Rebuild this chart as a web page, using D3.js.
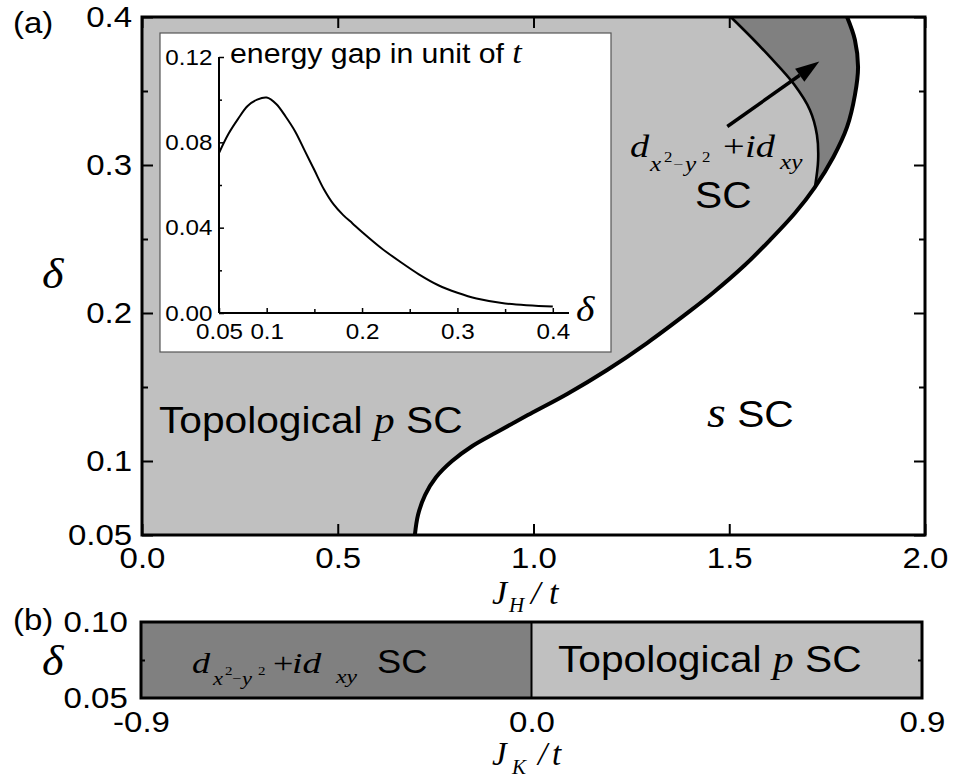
<!DOCTYPE html>
<html>
<head>
<meta charset="utf-8">
<script src="https://cdn.jsdelivr.net/npm/d3@7"></script>
<style>
  body { margin: 0; background: #fff; }
  svg { display: block; }
</style>
</head>
<body>
<svg id="chart" width="953" height="780"></svg>
<script>
// phase boundaries of panel (a): J_H/t and delta
const outerJ     = [0.697, 0.705, 0.723, 0.751, 0.792, 0.843, 0.907, 0.991, 1.086, 1.188, 1.290, 1.400, 1.458, 1.540, 1.604, 1.668, 1.719, 1.766, 1.801, 1.821, 1.829, 1.821, 1.801];
const outerDelta = [0.050, 0.0635, 0.077, 0.089, 0.100, 0.110, 0.1196, 0.1318, 0.1453, 0.1615, 0.1797, 0.2014, 0.2135, 0.2324, 0.2493, 0.2676, 0.2851, 0.3054, 0.3257, 0.3473, 0.3662, 0.3845, 0.400];
const innerJ     = [1.719, 1.727, 1.724, 1.706, 1.665, 1.604, 1.558, 1.504];
const innerDelta = [0.2851, 0.3034, 0.3203, 0.3372, 0.3547, 0.373, 0.3858, 0.400];

// inset: energy gap in unit of t vs delta
const gapDelta = [0.05, 0.06, 0.07, 0.08, 0.09, 0.10, 0.11, 0.12, 0.13, 0.14, 0.15, 0.16, 0.17, 0.18, 0.19, 0.20, 0.22, 0.24, 0.26, 0.28, 0.30, 0.32, 0.35, 0.40];
const gapValue = [0.075, 0.084, 0.091, 0.097, 0.100, 0.101, 0.098, 0.092, 0.085, 0.076, 0.067, 0.058, 0.051, 0.046, 0.042, 0.038, 0.0305, 0.024, 0.018, 0.013, 0.0095, 0.0068, 0.0045, 0.003];

// ticks
const mainXTicks  = [0, 0.5, 1.0, 1.5, 2.0];
const mainXLabels = ["0.0", "0.5", "1.0", "1.5", "2.0"];
const mainYTicks  = [0.05, 0.1, 0.2, 0.3, 0.4];
const mainYLabels = ["0.05", "0.1", "0.2", "0.3", "0.4"];
const mainYMinor  = [0.15, 0.25, 0.35];

const insetXTicks  = [0.05, 0.1, 0.2, 0.3, 0.4];
const insetXLabels = ["0.05", "0.1", "0.2", "0.3", "0.4"];
const insetXMinor  = [0.15, 0.25, 0.35];
const insetYTicks  = [0, 0.04, 0.08, 0.12];
const insetYLabels = ["0.00", "0.04", "0.08", "0.12"];
const insetYMinor  = [0.02, 0.06, 0.10];

// panel (b): phases along J_K/t
const bPhase = ["d", "p"];
const bFrom  = [-0.9, 0.0];
const bTo    = [0.0, 0.9];
const bXTicks  = [-0.9, 0, 0.9];
const bXLabels = ["-0.9", "0.0", "0.9"];
const bYTicks  = [0.05, 0.10];
const bYLabels = ["0.05", "0.10"];

// arrow pointing into the d+id region
const arrowFrom = [1.495, 0.326];
const arrowTo   = [1.730, 0.370];

const LIGHT = "#c0c0c0";
const DARK = "#808080";
const SANS = "'Liberation Sans', Arial, Helvetica, sans-serif";
const SERIF = "'Liberation Serif', 'Times New Roman', serif";
const SX = 1.1; // glyphs in the figure are a bit wider than Arial

const svg = d3.select("#chart");

const x = d3.scaleLinear().domain([0, 2]).range([142, 925]);
const y = d3.scaleLinear().domain([0.05, 0.4]).range([535, 17]);

const outer = outerJ.map((j, i) => [j, outerDelta[i]]);
const inner = innerJ.map((j, i) => [j, innerDelta[i]]);

const boundary = d3.line()
  .x(d => x(d[0]))
  .y(d => y(d[1]))
  .curve(d3.curveCatmullRom.alpha(0.5));

function label(parent, px, py, anchor) {
  return parent.append("text")
    .attr("transform", `translate(${px},${py}) scale(${SX},1)`)
    .attr("text-anchor", anchor || "start")
    .attr("fill", "#000")
    .style("font-family", SANS);
}

function serif(t, str, size) {
  return t.append("tspan")
    .style("font-family", SERIF)
    .style("font-style", "italic")
    .style("font-size", size + "px")
    .text(str);
}

function sans(t, str, size) {
  return t.append("tspan")
    .style("font-family", SANS)
    .style("font-size", size + "px")
    .text(str);
}

// math label laid out piece by piece: [text, x offset, baseline shift, size, italic]
function math(parent, px, py, pieces, sx) {
  sx = sx || 1;
  const t = parent.append("text")
    .attr("transform", `translate(${px},${py}) scale(${sx},1)`)
    .attr("fill", "#000")
    .style("font-family", SERIF);
  pieces.forEach(p => {
    t.append("tspan")
      .attr("x", p[1] / sx).attr("y", p[2])
      .style("font-size", p[3] + "px")
      .style("font-style", p[4] ? "italic" : "normal")
      .text(p[0]);
  });
  return t;
}

function styleAxis(g, size) {
  g.select(".domain").remove();
  g.selectAll(".tick line").attr("stroke", "#000").attr("stroke-width", 2);
  g.selectAll(".tick text")
    .attr("fill", "#000")
    .attr("font-size", size)
    .attr("font-family", SANS)
    .attr("transform", `scale(${SX},1)`);
}

// ---------- panel (a) ----------
const plot = svg.append("g");

plot.append("rect")
  .attr("x", x(0)).attr("y", y(0.4))
  .attr("width", x(2) - x(0)).attr("height", y(0.05) - y(0.4))
  .attr("fill", LIGHT);

plot.append("path")
  .attr("d", boundary(inner) + `L${x(2)},${y(0.4)}L${x(2)},${y(inner[0][1])}Z`)
  .attr("fill", DARK);

plot.append("path")
  .attr("d", boundary(outer) + `L${x(2)},${y(0.4)}L${x(2)},${y(0.05)}Z`)
  .attr("fill", "#fff");

plot.append("path")
  .attr("d", boundary(inner))
  .attr("fill", "none").attr("stroke", "#000").attr("stroke-width", 2.6);

plot.append("path")
  .attr("d", boundary(outer))
  .attr("fill", "none").attr("stroke", "#000").attr("stroke-width", 4);

// arrow
{
  const x0 = x(arrowFrom[0]), y0 = y(arrowFrom[1]);
  const x1 = x(arrowTo[0]), y1 = y(arrowTo[1]);
  const ang = Math.atan2(y1 - y0, x1 - x0);
  const headLen = 24, headHalf = 8;
  const bx0 = x1 - headLen * Math.cos(ang), by0 = y1 - headLen * Math.sin(ang);
  plot.append("line")
    .attr("x1", x0).attr("y1", y0).attr("x2", bx0).attr("y2", by0)
    .attr("stroke", "#000").attr("stroke-width", 3.5);
  const px = -Math.sin(ang) * headHalf, py = Math.cos(ang) * headHalf;
  plot.append("path")
    .attr("d", `M${x1},${y1}L${bx0 + px},${by0 + py}L${bx0 - px},${by0 - py}Z`)
    .attr("fill", "#000");
}

// region labels
{
  const t = label(plot, 159, 433);
  sans(t, "Topological ", 37);
  serif(t, "p", 38);
  sans(t, " SC", 37);

  const s = label(plot, 707, 427);
  serif(s, "s", 44);
  sans(s, " SC", 37);

  math(plot, 630, 157, [
    ["d", 0, 0, 32, true],
    ["x", 20, 14, 21, true],
    ["2", 34, 5, 14, false],
    ["\u2212", 43, 12, 15, false],
    ["y", 55, 14, 21, true],
    ["2", 72, 5, 14, false],
    ["+", 93, 0, 32, false],
    ["id", 115, 0, 32, true],
    ["xy", 150, 12, 21, true]
  ], 1.2);

  label(plot, 695, 208).style("font-size", "37px").text("SC");
}

// inset
const inset = svg.append("g");
inset.append("rect")
  .attr("x", 160).attr("y", 33).attr("width", 451).attr("height", 319)
  .attr("fill", "#fff").attr("stroke", "#555").attr("stroke-width", 1.2);

const ix = d3.scaleLinear().domain([0.05, 0.417]).range([219, 569]);
const iy = d3.scaleLinear().domain([0, 0.12]).range([313, 57]);

inset.append("path")
  .datum(gapDelta.map((d, i) => [d, gapValue[i]]))
  .attr("d", d3.line().x(d => ix(d[0])).y(d => iy(d[1])).curve(d3.curveCatmullRom.alpha(0.5)))
  .attr("fill", "none").attr("stroke", "#000").attr("stroke-width", 2);

inset.append("g").attr("transform", `translate(0,${iy(0)})`)
  .call(d3.axisBottom(ix).tickValues(insetXTicks).tickFormat((d, i) => insetXLabels[i]).tickSize(-5).tickPadding(10))
  .call(styleAxis, 22)
  .call(g => g.selectAll(".tick line").attr("stroke-width", 1.5));
inset.append("g").attr("transform", `translate(0,${iy(0)})`)
  .call(d3.axisBottom(ix).tickValues(insetXMinor).tickFormat("").tickSize(-4))
  .call(styleAxis, 22)
  .call(g => g.selectAll(".tick line").attr("stroke-width", 1.5));
inset.append("g").attr("transform", `translate(${ix(0.05)},0)`)
  .call(d3.axisLeft(iy).tickValues(insetYTicks).tickFormat((d, i) => insetYLabels[i]).tickSize(-5).tickPadding(6))
  .call(styleAxis, 22)
  .call(g => g.selectAll(".tick line").attr("stroke-width", 1.5));
inset.append("g").attr("transform", `translate(${ix(0.05)},0)`)
  .call(d3.axisLeft(iy).tickValues(insetYMinor).tickFormat("").tickSize(-3))
  .call(styleAxis, 22)
  .call(g => g.selectAll(".tick line").attr("stroke-width", 1.5));
inset.append("line")
  .attr("x1", ix.range()[0]).attr("x2", ix.range()[1]).attr("y1", iy(0)).attr("y2", iy(0))
  .attr("stroke", "#000").attr("stroke-width", 2);
inset.append("line")
  .attr("x1", ix(0.05)).attr("x2", ix(0.05)).attr("y1", iy(0)).attr("y2", iy(0.12))
  .attr("stroke", "#000").attr("stroke-width", 2);

{
  const t = label(inset, 230, 63);
  sans(t, "energy gap in unit of ", 27.5);
  serif(t, "t", 31);
  serif(label(inset, 576, 321), "\u03b4", 36);
}

// axes of panel (a)
svg.append("g").attr("transform", `translate(0,${y(0.05)})`)
  .call(d3.axisBottom(x).tickValues(mainXTicks).tickFormat((d, i) => mainXLabels[i]).tickSize(-11).tickPadding(12))
  .call(styleAxis, 30);
svg.append("g").attr("transform", `translate(0,${y(0.4)})`)
  .call(d3.axisTop(x).tickValues(mainXTicks).tickFormat("").tickSize(-11))
  .call(styleAxis, 30);
svg.append("g").attr("transform", `translate(${x(0)},0)`)
  .call(d3.axisLeft(y).tickValues(mainYTicks).tickFormat((d, i) => mainYLabels[i]).tickSize(-11).tickPadding(9))
  .call(styleAxis, 30);
svg.append("g").attr("transform", `translate(${x(0)},0)`)
  .call(d3.axisLeft(y).tickValues(mainYMinor).tickFormat("").tickSize(-6))
  .call(styleAxis, 30);
svg.append("g").attr("transform", `translate(${x(2)},0)`)
  .call(d3.axisRight(y).tickValues(mainYTicks).tickFormat("").tickSize(-11))
  .call(styleAxis, 30);
svg.append("g").attr("transform", `translate(${x(2)},0)`)
  .call(d3.axisRight(y).tickValues(mainYMinor).tickFormat("").tickSize(-6))
  .call(styleAxis, 30);

svg.append("rect")
  .attr("x", x(0)).attr("y", y(0.4))
  .attr("width", x(2) - x(0)).attr("height", y(0.05) - y(0.4))
  .attr("fill", "none").attr("stroke", "#000").attr("stroke-width", 3);

label(svg, 13, 33).style("font-size", "30px").text("(a)");
serif(label(svg, 42, 288), "\u03b4", 42);
math(svg, 492, 604, [
  ["J", 0, 0, 34, true],
  ["H", 17, 8, 21, true],
  ["/", 39, 0, 34, true],
  ["t", 57, 0, 34, true]
]);

// ---------- panel (b) ----------
const bx = d3.scaleLinear().domain([-0.9, 0.9]).range([141, 922]);
const by = d3.scaleLinear().domain([0.05, 0.10]).range([698, 622]);

svg.append("g").selectAll("rect")
  .data(bPhase)
  .join("rect")
  .attr("x", (d, i) => bx(bFrom[i]))
  .attr("width", (d, i) => bx(bTo[i]) - bx(bFrom[i]))
  .attr("y", by(0.10))
  .attr("height", by(0.05) - by(0.10))
  .attr("fill", d => d === "d" ? DARK : LIGHT);

svg.append("line")
  .attr("x1", bx(0)).attr("x2", bx(0)).attr("y1", by(0.10)).attr("y2", by(0.05))
  .attr("stroke", "#000").attr("stroke-width", 2);

svg.append("g").attr("transform", `translate(0,${by(0.05)})`)
  .call(d3.axisBottom(bx).tickValues(bXTicks).tickFormat((d, i) => bXLabels[i]).tickSize(0).tickPadding(13))
  .call(styleAxis, 30);
svg.append("g").attr("transform", `translate(${bx(-0.9)},0)`)
  .call(d3.axisLeft(by).tickValues(bYTicks).tickFormat((d, i) => bYLabels[i]).tickSize(0).tickPadding(12))
  .call(styleAxis, 30);
svg.append("g").attr("transform", `translate(${bx(-0.9)},0)`)
  .call(d3.axisLeft(by).tickValues([0.075]).tickFormat("").tickSize(-4))
  .call(styleAxis, 30);
svg.append("g").attr("transform", `translate(${bx(0.9)},0)`)
  .call(d3.axisRight(by).tickValues([0.075]).tickFormat("").tickSize(-4))
  .call(styleAxis, 30);

svg.append("rect")
  .attr("x", bx(-0.9)).attr("y", by(0.10))
  .attr("width", bx(0.9) - bx(-0.9)).attr("height", by(0.05) - by(0.10))
  .attr("fill", "none").attr("stroke", "#000").attr("stroke-width", 3);

{
  math(svg, 192, 673, [
    ["d", 0, 0, 29, true],
    ["x", 21, 12, 18, true],
    ["2", 33, 2, 12, false],
    ["\u2212", 40, 10, 13, false],
    ["y", 50, 12, 18, true],
    ["2", 66, 2, 12, false],
    ["+", 81, 0, 29, false],
    ["id", 100, 0, 30, true],
    ["xy", 144, 10, 19, true]
  ], 1.25);

  label(svg, 377, 673).style("font-size", "33px").text("SC");

  const t = label(svg, 558, 672);
  sans(t, "Topological ", 37);
  serif(t, "p", 38);
  sans(t, " SC", 37);
}

label(svg, 13, 630).style("font-size", "30px").text("(b)");
serif(label(svg, 42, 675), "\u03b4", 42);
math(svg, 492, 765, [
  ["J", 0, 0, 33, true],
  ["K", 20, 9, 21, true],
  ["/", 46, 0, 33, true],
  ["t", 60, 0, 33, true]
]);
</script>
</body>
</html>
